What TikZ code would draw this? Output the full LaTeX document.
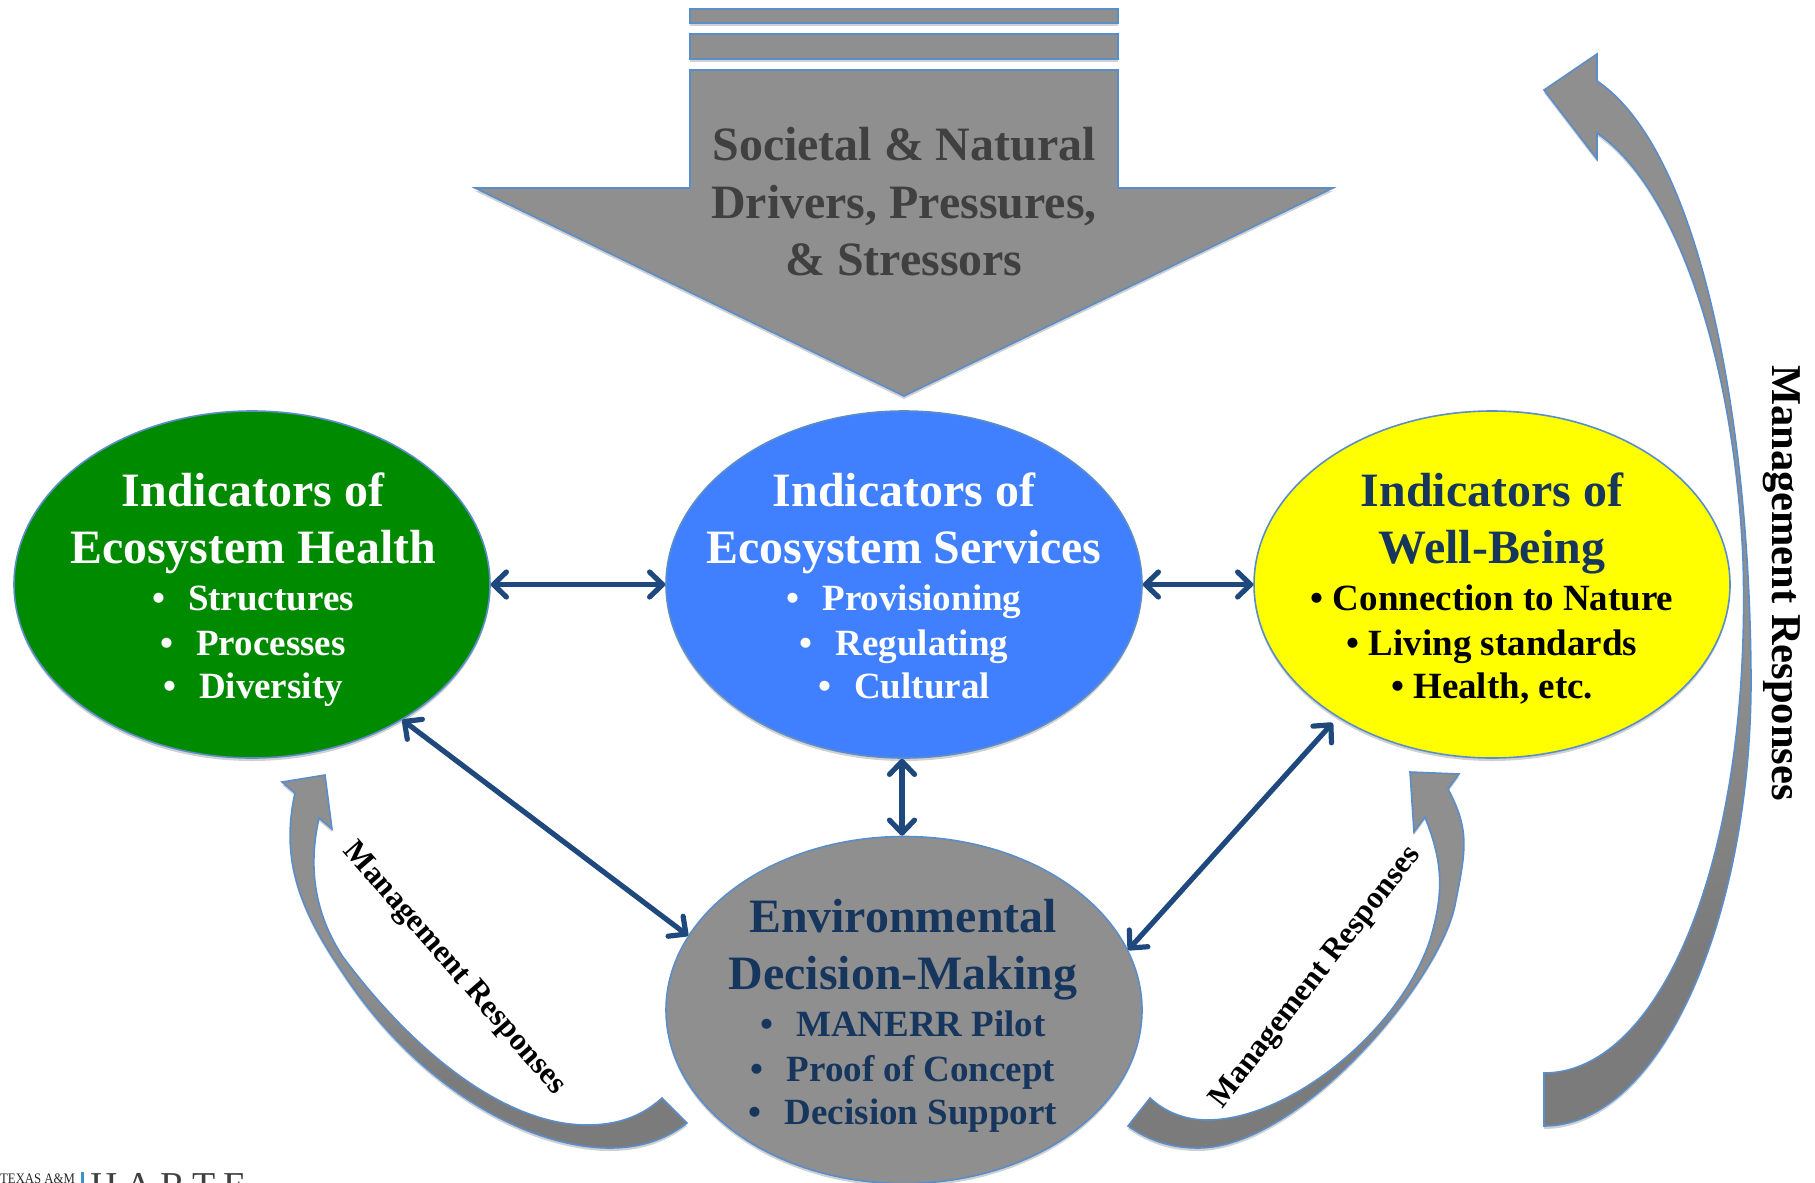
\documentclass[tikz,border=0pt]{standalone}
\usepackage{fontspec}
\setmainfont{Liberation Serif}
\usetikzlibrary{shapes.geometric,arrows.meta,shadows}
\definecolor{gA}{HTML}{8F8F8F}
\definecolor{gB}{HTML}{7B7B7B}
\definecolor{edge}{HTML}{5B8DC8}
\definecolor{navy}{HTML}{1F497D}
\definecolor{hgreen}{HTML}{008A00}
\definecolor{hblue}{HTML}{4080FF}
\definecolor{hyellow}{HTML}{FFFF00}
\definecolor{dtext}{HTML}{17365D}
\definecolor{atext}{HTML}{404040}
\definecolor{logo}{HTML}{3F8FC8}
\tikzset{
  softshadow/.style={drop shadow={shadow xshift=0pt,shadow yshift=-3pt,opacity=.18,fill=black}},
  ell/.style={ellipse,draw=edge,line width=1.6pt,minimum width=476pt,minimum height=347pt,inner sep=0pt,softshadow},
  etext/.style={align=center,inner sep=0pt,font=\fontsize{37}{45}\selectfont\bfseries},
  link/.style={draw=navy,line width=5.2pt,{Straight Barb[length=13pt,width=25pt,line width=5.2pt,round]}-{Straight Barb[length=13pt,width=25pt,line width=5.2pt,round]}},
  mgmt/.style={inner sep=0pt,font=\bfseries,text=black},
  gshape/.style={draw=edge,line width=1.6pt,fill=gA}
}
\newcommand{\hd}[1]{{\fontsize{47.9}{45}\selectfont #1}}
\newcommand{\bu}[1]{•\hspace{23pt}#1}
\newcommand{\boxtxt}[6][43]{\rule{0pt}{#1pt}\hd{#2}\\[12pt]\hd{#3}\\[2pt]#4\\#5\\[-2pt]#6\rule[-8pt]{0pt}{8pt}}
% shape, y-start of shading, y-end of shading, left, right
\newcommand{\garrow}[5]{%
  \fill[gA,softshadow] #1;
  \begin{scope}
    \clip #1;
    \shade[top color=gA,bottom color=gB] (#4,#2) rectangle (#5,#3);
    \fill[gB] (#4,#3) rectangle (#5,1183);
  \end{scope}
  \draw[edge,line width=1.6pt,line join=miter] #1;
}
\begin{document}
\begin{tikzpicture}[x=1pt,y=-1pt]
\useasboundingbox (0,0) rectangle (1815,1183);
\clip (0,0) rectangle (1815,1183);
% big arrow
\path[gshape,softshadow] (690,9) rectangle (1118,23);
\path[gshape,softshadow] (690,34) rectangle (1118,59);
\path[gshape,softshadow] (690,70) -- (1118,70) -- (1118,188) -- (1333,188) -- (904,396) -- (475,188) -- (690,188) -- cycle;
\node[align=center,inner sep=0pt,text=atext,font=\fontsize{47.9}{57.5}\selectfont\bfseries,anchor=base] (driverstext) at (904,275.5) {Societal \& Natural\\Drivers, Pressures,\\\& Stressors};
% curved arrows
\garrow{(1597,81) .. controls (1700,150) and (1750,420) .. (1751,680) .. controls (1751,920) and (1660,1126) .. (1544,1126) -- (1544,1073) .. controls (1660,1073) and (1752,860) .. (1743,560) .. controls (1735,370) and (1680,190) .. (1597,133) -- (1597,159) -- (1544,90) -- (1597,54) -- cycle}{650}{950}{1500}{1780}
\garrow{(295,793) .. controls (280,860) and (300,910) .. (343,973) .. controls (420,1090) and (530,1148) .. (610,1148) .. controls (640,1148) and (665,1140) .. (687,1123) -- (662,1098) .. controls (640,1118) and (615,1125) .. (587,1125) .. controls (510,1125) and (420,1060) .. (343,957) .. controls (322,925) and (305,880) .. (319,818) -- (332,829) -- (325,775) -- (282,782) -- cycle}{980}{1080}{270}{700}
\garrow{(1448,789) .. controls (1470,830) and (1466,850) .. (1455,905) .. controls (1440,980) and (1300,1148) .. (1198,1148) .. controls (1170,1148) and (1148,1140) .. (1128,1126) -- (1150,1098) .. controls (1165,1112) and (1185,1120) .. (1207,1120) .. controls (1290,1120) and (1400,1030) .. (1430,940) .. controls (1445,890) and (1442,860) .. (1425,817) -- (1414,832) -- (1410,772) -- (1459,774) -- cycle}{980}{1080}{1110}{1480}
% ellipses
\node[ell,fill=hgreen] (health) at (252,584.5) {};
\node[ell,fill=hblue] (services) at (904,584.5) {};
\node[ell,fill=hyellow] (wellbeing) at (1492,584.5) {};
\node[ell,fill=gA] (decision) at (904,1010) {};
\node[etext,text=white,xshift=1pt] (healthtext) at (health.center) {\boxtxt{Indicators of}{Ecosystem Health}{\bu{Structures}}{\bu{Processes}}{\bu{Diversity}}};
\node[etext,text=white] (servicestext) at (services.center) {\boxtxt{Indicators of}{Ecosystem Services}{\bu{Provisioning}}{\bu{Regulating}}{\bu{Cultural}}};
\node[etext,text=dtext] (wellbeingtext) at (wellbeing.center) {\rule{0pt}{43pt}\hd{Indicators of}\\[12pt]\hd{Well-Being}\\[2pt]\textcolor{black}{• Connection to Nature}\\\textcolor{black}{• Living standards}\\[-2pt]\textcolor{black}{• Health, etc.}\rule[-8pt]{0pt}{8pt}};
\node[etext,text=dtext,xshift=-1pt] (decisiontext) at (decision.center) {\boxtxt[45]{Environmental}{Decision-Making}{\bu{MANERR Pilot}}{\bu{Proof of Concept}}{\bu{Decision Support}}};
% connectors
\draw[link] (health.east) -- (services.west);
\draw[link] (services.east) -- (wellbeing.west);
\draw[link] ([xshift=-2pt]services.south) -- ([xshift=-2pt]decision.north);
\draw[link] (health.-42) -- (decision.161);
\draw[link] ([xshift=-9pt,yshift=-3pt]wellbeing.222) -- (decision.15);
% labels
\node[mgmt,rotate=-49,font=\fontsize{31.5}{36}\selectfont\bfseries] (mrleft) at (454,969) {Management Responses};
\node[mgmt,rotate=52,font=\fontsize{31.5}{36}\selectfont\bfseries] (mrmid) at (1316,978) {Management Responses};
\node[mgmt,rotate=-90,font=\fontsize{42.5}{46}\selectfont\bfseries] (mrright) at (1782,583) {Management Responses};
% logo
\node[anchor=base west,inner sep=0pt,xscale=.88,transform shape,font=\fontsize{14.5}{15}\selectfont,text=black!85] (logotamu) at (0,1183) {TEXAS A\&M};
\fill[logo] (81,1172) rectangle (84,1183);
\node[anchor=base west,inner sep=0pt,font=\fontsize{38}{38}\selectfont,text=black!75] (logoharte) at (90,1198) {H\hspace{7.5pt}A\hspace{7.5pt}R\hspace{7.5pt}T\hspace{7.5pt}E};
\end{tikzpicture}
\end{document}
